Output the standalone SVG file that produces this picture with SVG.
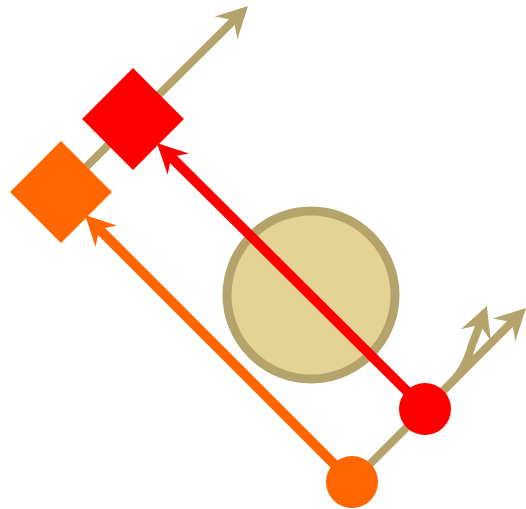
<svg xmlns="http://www.w3.org/2000/svg" width="526" height="509" viewBox="0 0 526 509">
<defs>
<style>
.tan{fill:none;stroke:#b5a36c;stroke-width:8}
.red{fill:none;stroke:#ff0000;stroke-width:10}
.org{fill:none;stroke:#ff6600;stroke-width:10}
</style>
<marker id="mt" markerUnits="userSpaceOnUse" markerWidth="40" markerHeight="40" viewBox="-20 -20 40 40" refX="0" refY="0" orient="auto" overflow="visible"><path d="M15,0 L-16,-16 L-5,0 L-16,16 Z" fill="#b5a36c"/></marker>
<marker id="mr" markerUnits="userSpaceOnUse" markerWidth="40" markerHeight="40" viewBox="-20 -20 40 40" refX="0" refY="0" orient="auto" overflow="visible"><path d="M15,0 L-15,-15 L-5,0 L-15,15 Z" fill="#ff0000"/></marker>
<marker id="mo" markerUnits="userSpaceOnUse" markerWidth="40" markerHeight="40" viewBox="-20 -20 40 40" refX="0" refY="0" orient="auto" overflow="visible"><path d="M15,0 L-15,-15 L-5,0 L-15,15 Z" fill="#ff6600"/></marker>
</defs>
<g id="connectors-back">
<path class="tan" d="M61,192 L237.4,16.6" marker-end="url(#mt)"/>
<path class="tan" d="M352,482 L515.4,318.6" marker-end="url(#mt)"/>
<path class="tan" d="M425,409 L452,382 Q466,368 472,345 L481.5,320" marker-end="url(#mt)"/>
</g>
<g id="big-circle">
<circle cx="311" cy="295" r="84" fill="#e4d394" stroke="#b5a36c" stroke-width="9"/>
</g>
<g id="connectors">
<path class="red" d="M425,409 L167.6,153.6" marker-end="url(#mr)"/>
<path class="org" d="M352,482 L95.6,225.6" marker-end="url(#mo)"/>
</g>
<g id="red-square"><rect x="97" y="83" width="72" height="72" fill="#ff0000" transform="rotate(45 133 119)"/></g>
<g id="orange-square"><rect x="25" y="156" width="72" height="72" fill="#ff6600" transform="rotate(45 61 192)"/></g>
<g id="red-dot"><circle cx="425" cy="409" r="26" fill="#ff0000"/></g>
<g id="orange-dot"><circle cx="352" cy="482" r="26" fill="#ff6600"/></g>
</svg>
